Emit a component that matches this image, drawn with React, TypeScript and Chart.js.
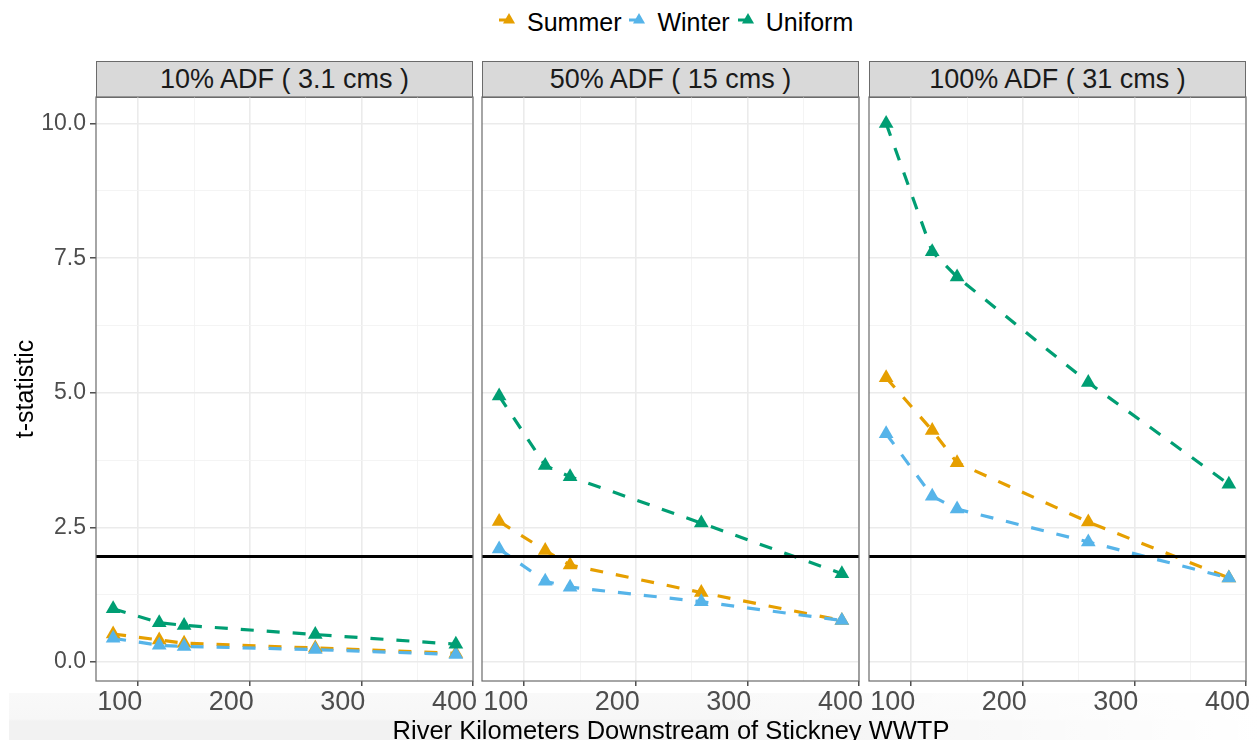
import React, { useEffect, useRef } from "react";
import { Chart, registerables } from "chart.js";

Chart.register(...registerables);

const FONT = '"Liberation Sans", Arial, Helvetica, sans-serif';

// ---- data ----
const riverKm = [77.5, 118.8, 141.1, 258.7, 384.7];

const summer10 = [0.52, 0.41, 0.35, 0.26, 0.16];
const winter10 = [0.44, 0.31, 0.29, 0.23, 0.14];
const uniform10 = [0.99, 0.73, 0.68, 0.51, 0.33];

const summer50 = [2.61, 2.07, 1.8, 1.29, 0.77];
const winter50 = [2.1, 1.5, 1.39, 1.12, 0.77];
const uniform50 = [4.94, 3.65, 3.44, 2.58, 1.64];

const summer100 = [5.28, 4.3, 3.7, 2.6, 1.56];
const winter100 = [4.24, 3.08, 2.84, 2.23, 1.56];
const uniform100 = [10.0, 7.62, 7.15, 5.19, 3.3];

const criticalT = 1.96;

const seriesNames = ["Summer", "Winter", "Uniform"];
const seriesColors = ["#E69F00", "#56B4E9", "#009E73"];
const panelTitles = ["10% ADF ( 3.1 cms )", "50% ADF ( 15 cms )", "100% ADF ( 31 cms )"];

const xMajorTicks = [100, 200, 300, 400];
const xMinorTicks = [150, 250, 350];
const yMajorTicks = [0, 2.5, 5, 7.5, 10];
const yMinorTicks = [1.25, 3.75, 6.25, 8.75];

const yTitle = "t-statistic";
const xTitle = "River Kilometers Downstream of Stickney WWTP";

const panelSeries = [
  [summer10, winter10, uniform10],
  [summer50, winter50, uniform50],
  [summer100, winter100, uniform100],
];

// ---- scale limits (ggplot-style 5% expansion) ----
const expand = (lo: number, hi: number) => {
  const d = (hi - lo) * 0.05;
  return [lo - d, hi + d];
};
const [xMin, xMax] = expand(Math.min(...riverKm), Math.max(...riverKm));
const allY = panelSeries.flat(2);
const [yMin, yMax] = expand(Math.min(...allY), Math.max(...allY));

// ---- layout ----
const PLOT_TOP = 97;
const PLOT_BOTTOM = 681;
const PANEL_LEFT = [96, 482, 869];
const PANEL_W = 377;
const PAD_TOP = 20;
const PAD_RIGHT = 30;
const PAD_LEFT_INNER = 20;
const X_AXIS_H = 40;
const Y_AXIS_W = 96;

const MAJOR_GRID = "#EBEBEB";
const MINOR_GRID = "#F3F3F3";
const TICK_COLOR = "#333333";
const BORDER_COLOR = "#6b6b6b";

const panelBorder = {
  id: "panelBorder",
  afterDatasetsDraw(chart: any) {
    const { ctx, chartArea: a } = chart;
    ctx.save();
    ctx.strokeStyle = BORDER_COLOR;
    ctx.lineWidth = 1.2;
    ctx.strokeRect(a.left, a.top, a.right - a.left, a.bottom - a.top);
    ctx.restore();
  },
};

function buildConfig(p: number): any {
  const first = p === 0;
  const series = panelSeries[p];
  const lineSets = series.map((vals, i) => ({
    label: seriesNames[i] + " line",
    data: riverKm.map((x, k) => ({ x, y: vals[k] })),
    borderColor: seriesColors[i],
    backgroundColor: seriesColors[i],
    borderWidth: 3.2,
    borderDash: [13, 13],
    pointRadius: 0,
    tension: 0,
    fill: false,
    order: 10 - i,
  }));
  const pointSets = series.map((vals, i) => ({
    label: seriesNames[i],
    data: riverKm.map((x, k) => ({ x, y: vals[k] })),
    showLine: false,
    pointStyle: "triangle",
    pointRadius: 8.5,
    pointBackgroundColor: seriesColors[i],
    pointBorderColor: seriesColors[i],
    pointBorderWidth: 0,
    order: 5 - i,
  }));
  const hline = {
    label: "critical",
    data: [
      { x: xMin, y: criticalT },
      { x: xMax, y: criticalT },
    ],
    borderColor: "#000000",
    borderWidth: 3,
    pointRadius: 0,
    order: 0,
  };

  const isMajorX = (v: number) => xMajorTicks.includes(v);
  const isMajorY = (v: number) => yMajorTicks.includes(v);

  return {
    type: "line",
    data: { datasets: [...lineSets, ...pointSets, hline] },
    options: {
      responsive: false,
      animation: false,
      events: [],
      layout: {
        padding: { top: PAD_TOP, right: PAD_RIGHT, bottom: 0, left: first ? 0 : PAD_LEFT_INNER },
      },
      plugins: {
        legend: { display: false },
        tooltip: { enabled: false },
        title: { display: false },
      },
      scales: {
        x: {
          type: "linear",
          min: xMin,
          max: xMax,
          afterBuildTicks: (axis: any) => {
            axis.ticks = [...xMajorTicks, ...xMinorTicks].sort((a, b) => a - b).map((v) => ({ value: v }));
          },
          afterFit: (axis: any) => {
            axis.height = X_AXIS_H;
          },
          border: { display: false },
          grid: {
            drawTicks: true,
            tickLength: 5,
            color: (c: any) => (c.tick && isMajorX(c.tick.value) ? MAJOR_GRID : MINOR_GRID),
            lineWidth: (c: any) => (c.tick && isMajorX(c.tick.value) ? 1.6 : 0.9),
            tickColor: (c: any) => (c.tick && isMajorX(c.tick.value) ? TICK_COLOR : "rgba(0,0,0,0)"),
            tickWidth: 1.3,
          },
          ticks: {
            autoSkip: false,
            maxRotation: 0,
            minRotation: 0,
            align: "end",
            labelOffset: 4,
            padding: 0,
            color: "#4D4D4D",
            font: { family: FONT, size: 27 },
            callback: (v: any) => (isMajorX(v) ? String(v) : ""),
          },
        },
        y: {
          type: "linear",
          min: yMin,
          max: yMax,
          afterBuildTicks: (axis: any) => {
            axis.ticks = [...yMajorTicks, ...yMinorTicks].sort((a, b) => a - b).map((v) => ({ value: v }));
          },
          afterFit: (axis: any) => {
            axis.width = first ? Y_AXIS_W : 0;
          },
          border: { display: false },
          grid: {
            drawTicks: first,
            tickLength: 6,
            color: (c: any) => (c.tick && isMajorY(c.tick.value) ? MAJOR_GRID : MINOR_GRID),
            lineWidth: (c: any) => (c.tick && isMajorY(c.tick.value) ? 1.6 : 0.9),
            tickColor: (c: any) => (c.tick && isMajorY(c.tick.value) ? TICK_COLOR : "rgba(0,0,0,0)"),
            tickWidth: 1.3,
          },
          ticks: {
            display: first,
            autoSkip: false,
            padding: 4,
            color: "#4D4D4D",
            font: { family: FONT, size: 23 },
            callback: (v: any) => (isMajorY(v) ? Number(v).toFixed(1) : ""),
          },
          title: {
            display: first,
            text: yTitle,
            color: "#000000",
            font: { family: FONT, size: 25 },
            padding: { top: 11, bottom: 0 },
          },
        },
      },
    },
    plugins: [panelBorder],
  };
}

function Panel({ p }: { p: number }) {
  const ref = useRef<HTMLCanvasElement | null>(null);
  const first = p === 0;
  const canvasLeft = first ? PANEL_LEFT[0] - Y_AXIS_W : PANEL_LEFT[p] - PAD_LEFT_INNER;
  const width = PANEL_LEFT[p] + PANEL_W - canvasLeft + PAD_RIGHT;
  const height = PAD_TOP + (PLOT_BOTTOM - PLOT_TOP) + X_AXIS_H;
  const top = PLOT_TOP - PAD_TOP;

  useEffect(() => {
    if (!ref.current) return;
    const chart = new Chart(ref.current, buildConfig(p));
    return () => chart.destroy();
  }, [p]);

  return (
    <canvas
      ref={ref}
      width={width}
      height={height}
      style={{ position: "absolute", left: canvasLeft, top, width, height, display: "block" }}
    />
  );
}

function Strip({ p }: { p: number }) {
  return (
    <div
      style={{
        position: "absolute",
        left: PANEL_LEFT[p],
        top: 61,
        width: PANEL_W,
        height: 37,
        boxSizing: "border-box",
        border: `1.2px solid ${BORDER_COLOR}`,
        background: "#D9D9D9",
        display: "flex",
        alignItems: "center",
        justifyContent: "center",
        fontSize: 27,
        color: "#1A1A1A",
        whiteSpace: "nowrap",
      }}
    >
      {panelTitles[p]}
    </div>
  );
}

function LegendKey({ color }: { color: string }) {
  const r = 7;
  const cx = 10;
  const cy = 12;
  const s = r * Math.sin(Math.PI / 3);
  return (
    <svg width={19} height={28} style={{ display: "block" }}>
      <line x1={0} y1={cy} x2={19} y2={cy} stroke={color} strokeWidth={3} strokeDasharray="12 12" />
      <polygon points={`${cx},${cy - r} ${cx + s},${cy + r / 2} ${cx - s},${cy + r / 2}`} fill={color} />
    </svg>
  );
}

function Legend() {
  return (
    <div
      style={{
        position: "absolute",
        left: 499,
        top: 8,
        height: 28,
        display: "flex",
        alignItems: "flex-start",
        fontSize: 25,
        lineHeight: "28px",
        color: "#000",
        whiteSpace: "nowrap",
      }}
    >
      {seriesNames.map((n, i) => (
        <div key={n} style={{ display: "flex", alignItems: "flex-start", marginRight: 8 }}>
          <LegendKey color={seriesColors[i]} />
          <span style={{ marginLeft: 9 }}>{n}</span>
        </div>
      ))}
    </div>
  );
}

export default function App() {
  return (
    <div
      style={{
        position: "absolute",
        left: 0,
        top: 0,
        width: 1260,
        height: 740,
        overflow: "hidden",
        background: "#ffffff",
        fontFamily: FONT,
      }}
    >
      <div
        style={{
          position: "absolute",
          left: 9,
          top: 693,
          width: 1251,
          height: 47,
          background:
            "linear-gradient(to right, rgba(255,255,255,0) 55%, #ffffff 100%), linear-gradient(to bottom, #F9F9F9 0%, #F7F7F7 55%, #F2F2F2 60%, #F2F2F2 100%)",
        }}
      />
      <Legend />
      {[0, 1, 2].map((p) => (
        <Strip key={"s" + p} p={p} />
      ))}
      {[0, 1, 2].map((p) => (
        <Panel key={"p" + p} p={p} />
      ))}
      <div
        style={{
          position: "absolute",
          left: 96,
          width: 1150,
          top: 718,
          textAlign: "center",
          fontSize: 25.5,
          lineHeight: "25px",
          color: "#000",
          whiteSpace: "nowrap",
        }}
      >
        {xTitle}
      </div>
    </div>
  );
}
